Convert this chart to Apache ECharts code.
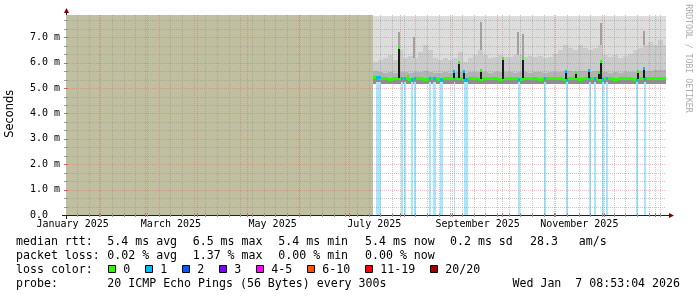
<!DOCTYPE html>
<html><head><meta charset="utf-8">
<script src="https://cdn.jsdelivr.net/npm/echarts@6/dist/echarts.min.js"></script>
<style>html,body{margin:0;padding:0;background:#fff}#c{width:697px;height:297px}</style>
</head><body><div id="c"></div>
<script>
// ---------------- data ----------------
const rangeStart = '2025-01-12T08:53:04Z';
const rangeEnd   = '2026-01-07T08:53:04Z';
const dataStart  = '2025-07-15T12:00:00Z';

const sampleDates = [
 '2025-07-15T12:00Z','2025-07-18T12:00Z','2025-07-21T12:00Z','2025-07-24T12:00Z','2025-07-27T12:00Z','2025-07-30T12:00Z',
 '2025-08-02T12:00Z','2025-08-05T12:00Z','2025-08-08T12:00Z','2025-08-11T12:00Z','2025-08-14T12:00Z','2025-08-17T12:00Z',
 '2025-08-20T12:00Z','2025-08-23T12:00Z','2025-08-26T12:00Z','2025-08-29T12:00Z','2025-09-01T12:00Z','2025-09-04T12:00Z',
 '2025-09-07T12:00Z','2025-09-10T12:00Z','2025-09-13T12:00Z','2025-09-16T12:00Z','2025-09-19T12:00Z','2025-09-22T12:00Z',
 '2025-09-25T12:00Z','2025-09-28T12:00Z','2025-10-01T12:00Z','2025-10-04T12:00Z','2025-10-07T12:00Z','2025-10-10T12:00Z',
 '2025-10-13T12:00Z','2025-10-16T12:00Z','2025-10-19T12:00Z','2025-10-22T12:00Z','2025-10-25T12:00Z','2025-10-28T12:00Z',
 '2025-10-31T12:00Z','2025-11-03T12:00Z','2025-11-06T12:00Z','2025-11-09T12:00Z','2025-11-12T12:00Z','2025-11-15T12:00Z',
 '2025-11-18T12:00Z','2025-11-21T12:00Z','2025-11-24T12:00Z','2025-11-27T12:00Z','2025-11-30T12:00Z','2025-12-03T12:00Z',
 '2025-12-06T12:00Z','2025-12-09T12:00Z','2025-12-12T12:00Z','2025-12-15T12:00Z','2025-12-18T12:00Z','2025-12-21T12:00Z',
 '2025-12-24T12:00Z','2025-12-27T12:00Z','2025-12-30T12:00Z','2026-01-02T12:00Z','2026-01-05T12:00Z'
];
// median rtt (ms)
const medianRtt = [
 5.42,5.38,5.38,5.37,5.38,5.38, 5.38,5.37,5.38,5.38,5.37,5.38, 5.38,5.37,5.38,5.38,5.38,5.38,
 5.37,5.38,5.38,5.37,5.38,5.38, 5.38,5.37,5.38,5.38,5.38,5.37, 5.38,5.38,5.38,5.37,5.38,5.38,
 5.38,5.38,5.37,5.38,5.38,5.37, 5.38,5.38,5.38,5.37,5.38,5.38, 5.37,5.38,5.38,5.38,5.37,5.38,
 5.38,5.38,5.38,5.38,5.38
];
// smoke: fastest ping
const smokeMin = [
 5.16,5.15,5.15,5.15,5.15,5.15, 5.15,5.15,5.15,5.15,5.15,5.15, 5.15,5.15,5.15,5.15,5.15,5.15,
 5.15,5.15,5.15,5.15,5.15,5.15, 5.15,5.15,5.15,5.15,5.15,5.15, 5.15,5.15,5.15,5.15,5.15,5.15,
 5.15,5.15,5.15,5.15,5.15,5.15, 5.15,5.15,5.15,5.15,5.15,5.15, 5.15,5.15,5.15,5.15,5.15,5.15,
 5.15,5.15,5.15,5.15,5.15
];
// smoke: dense band above median
const smokeInner = [
 5.66,5.62,5.60,5.62,5.60,5.63, 5.62,5.60,5.62,5.64,5.66,5.62, 5.60,5.60,5.62,5.60,5.62,5.64,
 5.60,5.62,5.62,5.64,5.62,5.60, 5.62,5.62,5.64,5.62,5.60,5.62, 5.62,5.60,5.62,5.62,5.60,5.62,
 5.62,5.64,5.68,5.66,5.64,5.68, 5.66,5.64,5.66,5.68,5.62,5.60, 5.62,5.60,5.62,5.62,5.64,5.66,
 5.66,5.68,5.70,5.72,5.70
];
// smoke: upper band
const smokeUpper = [
 6.03,6.11,6.19,6.30,6.11,6.50, 6.19,6.26,6.19,6.42,6.70,6.50, 6.19,6.11,6.19,6.11,6.19,6.42,
 6.03,6.19,6.30,6.50,6.30,6.19, 6.23,6.30,6.23,6.23,6.30,6.30, 6.23,6.26,6.23,6.26,6.19,6.23,
 6.34,6.50,6.70,6.58,6.50,6.70, 6.58,6.50,6.58,6.70,6.30,6.23, 6.30,6.19,6.26,6.34,6.50,6.58,
 6.70,6.82,6.70,6.90,6.70
];
// smoke: slowest ping
const smokeMax = [
 7.86,7.86,7.86,7.86,7.86,7.86, 7.86,7.86,7.86,7.86,7.86,7.86, 7.86,7.86,7.86,7.86,7.86,7.86,
 7.86,7.86,7.86,7.86,7.86,7.86, 7.86,7.86,7.86,7.86,7.86,7.86, 7.86,7.86,7.86,7.86,7.86,7.86,
 7.86,7.86,7.86,7.86,7.86,7.86, 7.86,7.86,7.86,7.86,7.86,7.86, 7.86,7.86,7.86,7.86,7.86,7.86,
 7.86,7.86,7.86,7.86,7.86
];
// isolated slow-ping peaks [time, ms]
const smokePeaks = [
 ['2025-07-31T08:00Z',7.20],['2025-08-09T11:00Z',7.00],['2025-09-18T02:00Z',7.60],
 ['2025-10-10T09:00Z',7.22],['2025-10-13T14:00Z',7.15],['2025-11-29T16:00Z',7.55],['2025-12-25T04:00Z',7.26]
];
// median jumps [time, ms, lost pings]
const medianSpikes = [
 ['2025-07-31T08:00Z',6.60,0],['2025-08-05T06:30Z',5.49,0],['2025-09-02T08:00Z',5.68,1],
 ['2025-09-05T11:00Z',6.03,0],['2025-09-08T11:00Z',5.66,1],['2025-09-18T13:00Z',5.73,0],
 ['2025-10-01T11:00Z',6.20,0],['2025-10-13T14:00Z',6.20,0],['2025-11-08T12:00Z',5.67,1],
 ['2025-11-14T13:00Z',5.62,0],['2025-11-21T23:45Z',5.70,1],['2025-11-28T04:00Z',5.63,0],
 ['2025-11-29T16:00Z',6.05,0],['2025-12-21T09:00Z',5.66,0],['2025-12-25T04:00Z',5.80,1]
];
// periods with packet loss [from, to, lost pings]
const lossPeriods = [
 ['2025-07-17T02:00Z','2025-07-20T02:00Z',1],['2025-08-01T02:00Z','2025-08-02T06:30Z',1],
 ['2025-08-02T23:45Z','2025-08-04T04:30Z',1],['2025-08-07T09:00Z','2025-08-08T13:40Z',1],
 ['2025-08-09T04:00Z','2025-08-10T09:00Z',1],['2025-08-18T04:00Z','2025-08-19T09:00Z',1],
 ['2025-08-20T18:00Z','2025-08-22T04:30Z',1],['2025-08-25T01:40Z','2025-08-26T09:20Z',1],
 ['2025-09-01T21:00Z','2025-09-03T01:40Z',1],['2025-09-07T21:00Z','2025-09-10T13:40Z',1],
 ['2025-10-10T13:40Z','2025-10-11T18:30Z',1],['2025-10-26T04:00Z','2025-10-27T09:00Z',1],
 ['2025-11-08T09:00Z','2025-11-09T13:40Z',1],['2025-11-22T08:30Z','2025-11-23T13:00Z',1],
 ['2025-11-25T04:00Z','2025-11-26T09:00Z',1],['2025-11-29T23:15Z','2025-12-01T04:00Z',1],
 ['2025-12-02T04:30Z','2025-12-03T13:40Z',1],['2025-12-20T09:00Z','2025-12-21T13:40Z',1],
 ['2025-12-25T04:00Z','2025-12-26T09:00Z',1]
];
const yTicks = [0,1,2,3,4,5,6,7];
const xLabelDates = ['2025-01-16T08:00Z','2025-03-16T08:00Z','2025-05-16T08:00Z','2025-07-16T08:00Z','2025-09-16T08:00Z','2025-11-16T08:00Z'];
const xLabelTexts = ['January 2025','March 2025','May 2025','July 2025','September 2025','November 2025'];
const lossColors = ['#26ff00','#00b8ff','#0059ff','#7e00ff','#ff00ff','#ff5500','#ff0000','#a10000'];
const lossLabels = ['0','1','2','3','4-5','6-10','11-19','20/20'];
const rttStats  = ['5.4 ms avg','6.5 ms max','5.4 ms min','5.4 ms now','0.2 ms sd','28.3   am/s'];
const lossStats = ['0.02 % avg','1.37 % max','0.00 % min','0.00 % now'];
const probeText = '20 ICMP Echo Pings (56 Bytes) every 300s';
const stampText = 'Wed Jan  7 08:53:04 2026';

// ---------------- helpers ----------------
const ms = s => new Date(s).getTime();
const T0 = ms(rangeStart), T1 = ms(rangeEnd), TD = ms(dataStart);
const sampleMs = sampleDates.map(ms);
function idxAt(t){ let k = 0; for (let i = 0; i < sampleMs.length; i++) if (sampleMs[i] <= t) k = i; return k; }

// grid tick positions (month starts = major, Sundays = minor)
const monthLines = [], weekLines = [];
for (let m = 1; m <= 12; m++) monthLines.push(Date.UTC(2025, m, 1));
for (let t = Date.UTC(2025,0,19); t < T1; t += 7*86400000) weekLines.push(t);
const yMajor = [1,2,3,4,5,6,7];
const yMinor = [];
for (let k = 1; k <= 23; k++) if (k % 3) yMinor.push(k/3);

const MONO = '"DejaVu Sans Mono", monospace';
const G = {left:66, top:15, width:600, height:200};
const MAJ = 'rgba(245,79,79,0.4)', MIN = 'rgba(143,143,143,0.5)';

const smokeData = sampleMs.map((t,i)=>[t, i+1<sampleMs.length?sampleMs[i+1]:T1, smokeMin[i], medianRtt[i], smokeInner[i], smokeUpper[i], smokeMax[i]]);

function lighten(hex, a){
  const n = parseInt(hex.slice(1),16), r=n>>16, g=(n>>8)&255, b=n&255;
  const f = c => Math.round(255 - (255-c)*a);
  return 'rgb('+f(r)+','+f(g)+','+f(b)+')';
}

const chart = echarts.init(document.getElementById('c'), null, {renderer:'canvas'});

const series = [];
// no-data area
series.push({type:'custom', z:1, silent:true, data:[[T0, TD]], encode:{x:[0,1]},
  renderItem(p, api){
    const cs = p.coordSys;
    const xa = Math.round(api.coord([api.value(0),0])[0]), xb = Math.round(api.coord([api.value(1),0])[0]);
    return {type:'rect', shape:{x:xa, y:cs.y, width:xb-xa, height:cs.height}, style:{fill:'#c0c0a0'}};
  }});
// smoke
series.push({type:'custom', z:2, silent:true, data:smokeData, encode:{x:[0,1], y:[2,3,4,5,6]},
  renderItem(p, api){
    const t0=api.value(0), t1=api.value(1);
    const xa = Math.round(api.coord([t0,0])[0]), xb = Math.round(api.coord([t1,0])[0]);
    const Y = v => Math.round(api.coord([t0,v])[1]);
    const r = (v1,v2,c)=>({type:'rect', shape:{x:xa, y:Y(v2), width:xb-xa, height:Y(v1)-Y(v2)}, style:{fill:c}});
    return {type:'group', children:[
      r(api.value(5), api.value(6), '#dddddd'),
      r(api.value(4), api.value(5), '#cbcbcb'),
      r(api.value(3), api.value(4), '#b3b3b3'),
      r(api.value(2), api.value(3), '#8e8e8e')
    ]};
  }});
// peaks
series.push({type:'custom', z:3, silent:true, data:smokePeaks.map(d=>[ms(d[0]), d[1]]), encode:{x:0,y:1},
  renderItem(p, api){
    const t = api.value(0);
    const x = Math.round(api.coord([t,0])[0]);
    const y1 = Math.round(api.coord([t, api.value(1)])[1]);
    const y0 = Math.round(api.coord([t, smokeUpper[idxAt(t)]])[1]);
    return {type:'rect', shape:{x:x-1, y:y1, width:2, height:y0-y1}, style:{fill:'#a2a2a2'}};
  }});
// loss stripes
series.push({type:'custom', z:4, silent:true, data:lossPeriods.map(d=>[ms(d[0]), ms(d[1]), d[2]]), encode:{x:[0,1]},
  renderItem(p, api){
    const t0=api.value(0), t1=api.value(1), c=lossColors[api.value(2)];
    const xa = Math.round(api.coord([t0,0])[0]), xb = Math.max(Math.round(api.coord([t1,0])[0]), xa+1);
    const yb = Math.round(api.coord([t0,0])[1]), yt = Math.round(api.coord([t0,5.25])[1]);
    return {type:'rect', shape:{x:xa, y:yt, width:xb-xa, height:yb-yt}, style:{fill:lighten(c,0.35)}};
  }});
// grid lines (drawn over areas)
series.push({type:'custom', z:5, silent:true,
  data: weekLines.map(t=>[t,0,0]).concat(monthLines.map(t=>[t,0,1])), encode:{x:0},
  renderItem(p, api){
    const cs = p.coordSys, t = api.value(0), maj = api.value(2);
    const x = Math.round(api.coord([t,0])[0]) + 0.5;
    return {type:'group', children:[
      {type:'line', shape:{x1:x, y1:cs.y, x2:x, y2:cs.y+cs.height}, style:{stroke:maj?MAJ:MIN, lineWidth:1, lineDash:[1,1]}},
      {type:'line', shape:{x1:x, y1:cs.y+cs.height-2, x2:x, y2:cs.y+cs.height+2}, style:{stroke:maj?'#e06060':'#999', lineWidth:1}}
    ]};
  }});
series.push({type:'custom', z:5, silent:true,
  data: yMinor.map(v=>[T0,v,0]).concat(yMajor.map(v=>[T0,v,1])), encode:{y:1},
  renderItem(p, api){
    const cs = p.coordSys, maj = api.value(2);
    const y = Math.round(api.coord([T0, api.value(1)])[1]) + 0.5;
    return {type:'group', children:[
      {type:'line', shape:{x1:cs.x, y1:y, x2:cs.x+cs.width, y2:y}, style:{stroke:maj?MAJ:MIN, lineWidth:1, lineDash:[1,1]}},
      {type:'line', shape:{x1:cs.x-2, y1:y, x2:cs.x+2, y2:y}, style:{stroke:maj?'#e06060':'#999', lineWidth:1}}
    ]};
  }});
// x-axis labels (mid-month)
series.push({type:'custom', z:5, silent:true, clip:false,
  data: xLabelDates.map((d,i)=>[ms(d), 0, i]), encode:{x:0},
  renderItem(p, api){
    const pt = api.coord([api.value(0), 0]);
    return {type:'text', x:pt[0], y:pt[1]+9.5, style:{text:xLabelTexts[api.value(2)], font:'10px '+MONO, fill:'#000', align:'center', verticalAlign:'middle'}};
  }});
// median line
series.push({type:'custom', z:6, silent:true, data:smokeData.map(d=>[d[0],d[1],d[3]]), encode:{x:[0,1], y:2},
  renderItem(p, api){
    const xa = Math.round(api.coord([api.value(0),0])[0]), xb = Math.round(api.coord([api.value(1),0])[0]);
    const y = Math.round(api.coord([api.value(0), api.value(2)])[1]);
    return {type:'rect', shape:{x:xa, y:y-1, width:xb-xa, height:3}, style:{fill:lossColors[0]}};
  }});
// median coloured by loss
series.push({type:'custom', z:7, silent:true, data:lossPeriods.map(d=>[ms(d[0]), ms(d[1]), d[2]]), encode:{x:[0,1]},
  renderItem(p, api){
    const t0=api.value(0), t1=api.value(1);
    const xa = Math.round(api.coord([t0,0])[0]), xb = Math.max(Math.round(api.coord([t1,0])[0]), xa+1);
    const y = Math.round(api.coord([t0, medianRtt[idxAt(t0)]])[1]);
    return {type:'rect', shape:{x:xa, y:y-1, width:xb-xa, height:3}, style:{fill:lossColors[api.value(2)]}};
  }});
// median spikes
series.push({type:'custom', z:8, silent:true, data:medianSpikes.map(d=>[ms(d[0]), d[1], d[2]]), encode:{x:0,y:1},
  renderItem(p, api){
    const t = api.value(0);
    const x = Math.round(api.coord([t,0])[0]);
    const yt = Math.round(api.coord([t, api.value(1)])[1]);
    const yb = Math.round(api.coord([t, medianRtt[idxAt(t)]])[1]);
    return {type:'group', children:[
      {type:'rect', shape:{x:x-1, y:yt, width:2, height:yb-yt}, style:{fill:'#1c1c1c'}},
      {type:'rect', shape:{x:x-1, y:yt-1, width:2, height:3}, style:{fill:lossColors[api.value(2)]}}
    ]};
  }});

// ---------------- chrome ----------------
const graphics = [];
const txt = (x,y,s,extra) => graphics.push({type:'text', x, y, silent:true,
  style:Object.assign({text:s, font:'11.6px '+MONO, fill:'#000', verticalAlign:'middle'}, extra||{})});
graphics.push({type:'line', silent:true, shape:{x1:62, y1:215.5, x2:669, y2:215.5}, style:{stroke:'#212121', lineWidth:1}});
graphics.push({type:'line', silent:true, shape:{x1:66.5, y1:219, x2:66.5, y2:11}, style:{stroke:'#212121', lineWidth:1}});
graphics.push({type:'polygon', silent:true, shape:{points:[[64,13],[69,13],[66.5,8]]}, style:{fill:'#800000'}});
graphics.push({type:'polygon', silent:true, shape:{points:[[669,213],[669,218],[674,215.5]]}, style:{fill:'#800000'}});
graphics.push({type:'text', silent:true, x:10.5, y:113.7, rotation:Math.PI/2,
  style:{text:'Seconds', font:'11.4px "DejaVu Sans", sans-serif', fill:'#000', align:'center', verticalAlign:'middle'}});
graphics.push({type:'text', silent:true, x:688, y:58.5, rotation:-Math.PI/2,
  style:{text:'RRDTOOL / TOBI OETIKER', font:'8.2px '+MONO, fill:'#acacac', align:'center', verticalAlign:'middle'}});
const colX = [107.3, 192.7, 278.3, 365, 450, 530];
const rowY = [241.5, 255.5, 269.5, 283.5];
txt(16, rowY[0], 'median rtt:');
rttStats.forEach((s,i)=>txt(colX[i], rowY[0], s));
txt(16, rowY[1], 'packet loss:');
lossStats.forEach((s,i)=>txt(colX[i], rowY[1], s));
txt(16, rowY[2], 'loss color:');
const boxX = [108.5, 145.5, 182.5, 219.5, 256.5, 307.5, 365.5, 430.5];
lossLabels.forEach((s,i)=>{
  graphics.push({type:'rect', silent:true, shape:{x:boxX[i], y:265.5, width:7, height:7}, style:{fill:lossColors[i], stroke:'#000', lineWidth:1}});
  txt(boxX[i]+14.8, rowY[2], s);
});
txt(16, rowY[3], 'probe:');
txt(107.3, rowY[3], probeText);
txt(680, rowY[3], stampText, {align:'right'});

chart.setOption({
  animation:false,
  backgroundColor:'#ffffff',
  grid:{left:G.left, top:G.top, width:G.width, height:G.height, containLabel:false},
  xAxis:{type:'time', min:T0, max:T1,
    axisLine:{show:false}, axisTick:{show:false}, splitLine:{show:false}, axisLabel:{show:false}},
  yAxis:{type:'value', min:0, max:7.88, interval:1,
    axisLine:{show:false}, axisTick:{show:false}, splitLine:{show:false},
    axisLabel:{showMaxLabel:false, margin:6, fontFamily:'DejaVu Sans Mono', fontSize:10, color:'#000',
      formatter:(v)=> v===0 ? '0.0  ' : (yTicks.indexOf(v)>=0 ? v.toFixed(1)+' m' : '')}},
  series,
  graphic:graphics
});
</script></body></html>
